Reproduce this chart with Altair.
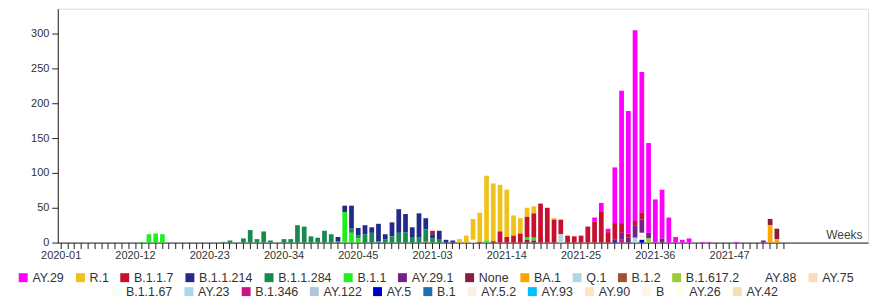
import json
import altair as alt
import pandas as pd

# ---- categories -------------------------------------------------------------
lineages = ["AY.29", "R.1", "B.1.1.7", "B.1.1.214", "B.1.1.284", "B.1.1", "AY.29.1",
            "None", "BA.1", "Q.1", "B.1.2", "B.1.617.2", "AY.88", "AY.75",
            "B.1.1.67", "AY.23", "B.1.346", "AY.122", "AY.5", "B.1", "AY.5.2",
            "AY.93", "AY.90", "B", "AY.26", "AY.42"]
colors = ["#ff00ff", "#efc11b", "#c8102e", "#232a87", "#178a4e", "#1ef01e", "#75218a",
          "#8b1c3b", "#ffa500", "#add8e6", "#a0522d", "#9acd32", "#ffffff", "#ffdab9",
          "#f0fff0", "#a9d8e8", "#c71585", "#b0c4de", "#0000cd", "#1e6eb5", "#faf0e6",
          "#00bfff", "#ffe4c4", "#fdf5e6", "#fffff0", "#f5deb3"]

weeks = ([f"2020-{w:02d}" for w in range(1, 54)] +
         [f"2021-{w:02d}" for w in range(1, 53)] +
         [f"2022-{w:02d}" for w in range(1, 4)])
label_weeks = ["2020-01", "2020-12", "2020-23", "2020-34", "2020-45",
               "2021-03", "2021-14", "2021-25", "2021-36", "2021-47"]
empty_slots = [f"_{i}" for i in range(12)]

# ---- weekly counts per lineage ----------------------------------------------
AY_29 = [("2021-27", 6), ("2021-28", 12), ("2021-29", 5), ("2021-30", 80), ("2021-31", 190),
         ("2021-32", 176), ("2021-33", 274), ("2021-34", 202), ("2021-35", 129), ("2021-36", 62),
         ("2021-37", 70), ("2021-38", 36), ("2021-39", 8), ("2021-40", 4), ("2021-41", 6),
         ("2021-43", 1), ("2021-44", 1), ("2021-48", 1)]
R_1 = [("2021-07", 5), ("2021-08", 10), ("2021-09", 30), ("2021-10", 42), ("2021-11", 93),
       ("2021-12", 83), ("2021-13", 67), ("2021-14", 68), ("2021-15", 29), ("2021-16", 22),
       ("2021-17", 13), ("2021-18", 10), ("2021-21", 2)]
B_1_1_7 = [("2021-03", 5), ("2021-10", 1), ("2021-12", 2), ("2021-13", 16), ("2021-14", 8),
           ("2021-15", 10), ("2021-16", 13), ("2021-17", 29), ("2021-18", 35), ("2021-19", 56),
           ("2021-20", 50), ("2021-21", 33), ("2021-22", 21), ("2021-23", 10), ("2021-24", 9),
           ("2021-25", 10), ("2021-26", 23), ("2021-27", 30), ("2021-28", 45), ("2021-29", 15),
           ("2021-30", 24), ("2021-31", 14), ("2021-32", 6), ("2021-33", 6), ("2021-34", 10)]
B_1_1_214 = [("2020-42", 6), ("2020-43", 9), ("2020-44", 33), ("2020-45", 11), ("2020-46", 13),
             ("2020-47", 8), ("2020-48", 25), ("2020-49", 7), ("2020-50", 20), ("2020-51", 34),
             ("2020-52", 26), ("2020-53", 14), ("2021-01", 35), ("2021-02", 16), ("2021-03", 6),
             ("2021-04", 13), ("2021-05", 4), ("2021-06", 3)]
B_1_1_284 = [("2020-25", 1), ("2020-26", 3), ("2020-28", 6), ("2020-29", 18), ("2020-30", 5),
             ("2020-31", 16), ("2020-32", 3), ("2020-34", 5), ("2020-35", 5), ("2020-36", 25),
             ("2020-37", 23), ("2020-38", 9), ("2020-39", 7), ("2020-40", 17), ("2020-41", 12),
             ("2020-42", 2), ("2020-44", 6), ("2020-45", 4), ("2020-46", 12), ("2020-47", 14),
             ("2020-48", 2), ("2020-49", 5), ("2020-50", 9), ("2020-51", 14), ("2020-52", 15),
             ("2020-53", 8), ("2021-01", 7), ("2021-02", 17), ("2021-03", 6), ("2021-04", 4)]
B_1_1 = [("2020-13", 1), ("2020-14", 12), ("2020-15", 13), ("2020-16", 12), ("2020-43", 44),
         ("2020-44", 14), ("2020-45", 6), ("2021-11", 3), ("2021-17", 4), ("2021-18", 4)]
AY_29_1 = [("2021-30", 2), ("2021-31", 10), ("2021-32", 7), ("2021-33", 18), ("2021-34", 19),
           ("2021-35", 8), ("2021-37", 6), ("2021-52", 3)]
NONE = [("2021-17", 4), ("2021-18", 3), ("2022-01", 9), ("2022-02", 15)]
BA_1 = [("2022-01", 25), ("2022-02", 5)]
Q_1 = [("2021-22", 12)]
B_1_2 = [("2021-02", 2)]
B_1_617_2 = [("2021-35", 6)]
AY_88 = [("2021-34", 4)]
AY_75 = [("2021-34", 2)]
B_1_1_67 = [("2021-09", 4), ("2021-34", 4)]
AY_23 = [("2021-33", 7)]
B_1_346 = [("2021-31", 4)]
AY_122 = []
AY_5 = [("2021-30", 2), ("2021-34", 4)]
B_1 = []
AY_5_2 = []
AY_93 = []
AY_90 = []
B_ = []
AY_26 = []
AY_42 = []

series = [AY_29, R_1, B_1_1_7, B_1_1_214, B_1_1_284, B_1_1, AY_29_1, NONE, BA_1, Q_1, B_1_2,
          B_1_617_2, AY_88, AY_75, B_1_1_67, AY_23, B_1_346, AY_122, AY_5, B_1, AY_5_2,
          AY_93, AY_90, B_, AY_26, AY_42]

rows = []
for i, (name, pts) in enumerate(zip(lineages, series)):
    for wk, c in pts:
        rows.append({"week": wk, "lineage": name, "ord": i, "count": c})
df = pd.DataFrame(rows)

FONT = "Liberation Sans"
label_expr = "indexof(" + json.dumps(label_weeks) + ", datum.value) >= 0 ? datum.value : ''"

x_enc = alt.X(
    "week:O",
    scale=alt.Scale(domain=weeks + empty_slots, paddingInner=0.3, paddingOuter=0.15),
    axis=alt.Axis(values=weeks, labelExpr=label_expr, labelAngle=0, labelFontSize=11,
                  labelColor="#333", labelPadding=1, tickSize=6, tickColor="#222",
                  domainColor="#222", labelFont=FONT, title="Weeks", titleX=808, titleY=-4,
                  titleAlign="right", titleBaseline="alphabetic", titleFontWeight="normal",
                  titleFontSize=12, titleColor="#444", titleFont=FONT, labelOverlap=False),
)
y_enc = alt.Y(
    "y0:Q", stack=None,
    scale=alt.Scale(domain=[0, 336], nice=False, zero=True),
    axis=alt.Axis(values=[0, 50, 100, 150, 200, 250, 300], grid=False, title=None,
                  labelFontSize=11, labelColor="#333", tickSize=6, tickColor="#222",
                  domainColor="#222", labelFont=FONT, labelPadding=3),
)

base = alt.Chart(df).transform_stack(
    stack="count", groupby=["week"],
    sort=[alt.SortField("ord", order="descending")], as_=["y0", "y1"],
)


def legend(cols, lx, ly):
    return alt.Legend(title=None, orient="none", legendX=lx, legendY=ly, direction="horizontal",
                      columns=cols, gridAlign="none", symbolType="square", symbolSize=81,
                      symbolStrokeWidth=0, labelFontSize=12.5, labelFont=FONT, labelColor="#333",
                      labelOffset=3, columnPadding=9.5, rowPadding=0, padding=0)


layer1 = base.transform_filter(alt.datum.ord < 14).mark_bar().encode(
    x=x_enc, y=y_enc, y2="y1:Q",
    color=alt.Color("lineage:N", scale=alt.Scale(domain=lineages[:14], range=colors[:14]),
                    legend=legend(14, -41, 264)),
)
layer2 = base.transform_filter(alt.datum.ord >= 14).mark_bar().encode(
    x=x_enc, y=y_enc, y2="y1:Q",
    color=alt.Color("lineage2:N", scale=alt.Scale(domain=lineages[14:], range=colors[14:]),
                    legend=legend(12, 53, 278)),
).transform_calculate(lineage2="datum.lineage")

chart = alt.layer(layer1, layer2).resolve_scale(color="independent").properties(
    width=814, height=235,
    autosize=alt.AutoSizeParams(type="none"),
    padding={"left": 50, "top": 0, "right": 5, "bottom": 58},
).configure_view(stroke=None).configure(font=FONT)

chart.save("out.html", embed_options={"renderer": "svg", "actions": False})
